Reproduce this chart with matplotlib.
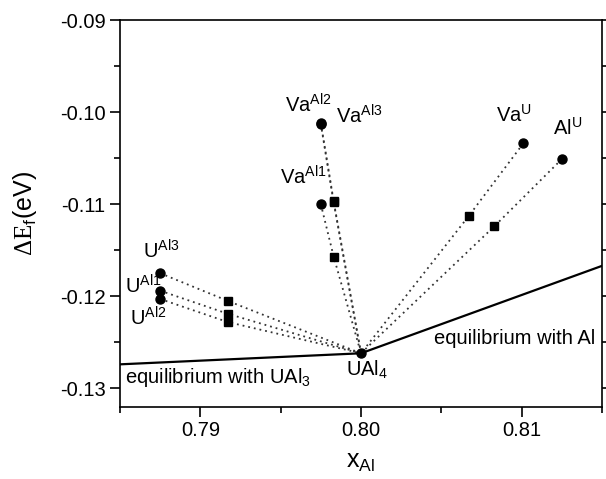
import matplotlib
matplotlib.use("Agg")
import matplotlib.pyplot as plt
from matplotlib.ticker import MultipleLocator

plt.rcParams["font.family"] = ["Liberation Sans", "DejaVu Sans"]
plt.rcParams["mathtext.fontset"] = "custom"
plt.rcParams["mathtext.rm"] = "Liberation Sans"
plt.rcParams["mathtext.it"] = "Liberation Sans:italic"
plt.rcParams["mathtext.sf"] = "Liberation Serif"

# UAl4 reference point
ual4_x = 0.800
ual4_y = -0.1262

# U antisite defects (circles) and their dilute counterparts (squares)
u_x = 0.7875
u_y = [-0.1175, -0.1194, -0.1203]
u_sq_x = 0.7917
u_sq_y = [-0.1205, -0.1219, -0.1228]

# Al vacancies
va_x = 0.7975
va_y = [-0.1013, -0.1012, -0.1100]
va_sq_x = 0.7983
va_sq_y = [-0.1098, -0.1097, -0.1157]

# U-site defects on the Al-rich side
au_labels = ["Va$^{\\mathrm{U}}$", "Al$^{\\mathrm{U}}$"]
au_x = [0.8101, 0.8125]
au_y = [-0.1034, -0.1051]
au_sq_x = [0.8067, 0.8083]
au_sq_y = [-0.1113, -0.1124]

# convex hull
hull_x = [0.785, 0.800, 0.815]
hull_y = [-0.1274, -0.1262, -0.1167]

fig = plt.figure(figsize=(6.06, 4.79), dpi=100)
ax = fig.add_axes([0.198, 0.151, 0.7954, 0.807])

dot = dict(color="#333333", linestyle=(0, (1, 2.2)), linewidth=1.3, zorder=2)

for y0, y1 in zip(u_y, u_sq_y):
    ax.plot([u_x, u_sq_x, ual4_x], [y0, y1, ual4_y], **dot)
for y0, y1 in zip(va_y, va_sq_y):
    ax.plot([va_x, va_sq_x, ual4_x], [y0, y1, ual4_y], **dot)
for x0, y0, x1, y1 in zip(au_x, au_y, au_sq_x, au_sq_y):
    ax.plot([x0, x1, ual4_x], [y0, y1, ual4_y], **dot)

ax.plot(hull_x, hull_y, color="black", linewidth=1.6, zorder=3)

ax.plot([u_x] * 3, u_y, "o", color="black", ms=6.5, zorder=4)
ax.plot([u_sq_x] * 3, u_sq_y, "s", color="black", ms=5.5, zorder=4)
ax.plot([va_x] * 3, va_y, "o", color="black", ms=6.5, zorder=4)
ax.plot([va_sq_x] * 3, va_sq_y, "s", color="black", ms=5.5, zorder=4)
ax.plot(au_x, au_y, "o", color="black", ms=6.5, zorder=4)
ax.plot(au_sq_x, au_sq_y, "s", color="black", ms=5.5, zorder=4)
ax.plot([ual4_x], [ual4_y], "o", color="black", ms=6.5, zorder=4)

fs = 14.5
txt = dict(fontsize=fs, ha="left", va="baseline")
ax.text(0.78642, -0.11587, "U$^{\\mathrm{Al3}}$", **txt)
ax.text(0.78530, -0.11967, "U$^{\\mathrm{Al1}}$", **txt)
ax.text(0.78561, -0.12315, "U$^{\\mathrm{Al2}}$", **txt)
ax.text(0.79524, -0.1000, "Va$^{\\mathrm{Al2}}$", **txt)
ax.text(0.79847, -0.1012, "Va$^{\\mathrm{Al3}}$", **txt)
ax.text(0.79493, -0.1079, "Va$^{\\mathrm{Al1}}$", **txt)
ax.text(0.80840, -0.10109, au_labels[0], **txt)
ax.text(0.81194, -0.1025, au_labels[1], **txt)
ax.text(0.79909, -0.12859, "UAl$_{\\mathrm{4}}$", **txt)
ax.text(0.78530, -0.12946, "equilibrium with UAl$_{\\mathrm{3}}$", **txt)
ax.text(0.80455, -0.1252, "equilibrium with Al", **txt)

ax.set_xlim(0.785, 0.815)
ax.set_ylim(-0.132, -0.09)
ax.xaxis.set_major_locator(MultipleLocator(0.01))
ax.xaxis.set_minor_locator(MultipleLocator(0.005))
ax.yaxis.set_major_locator(MultipleLocator(0.01))
ax.yaxis.set_minor_locator(MultipleLocator(0.005))
ax.xaxis.set_major_formatter(plt.FormatStrFormatter("%.2f"))
ax.yaxis.set_major_formatter(plt.FormatStrFormatter("%.2f"))

for s in ax.spines.values():
    s.set_linewidth(1.2)
ax.tick_params(which="both", direction="out", width=1.2, labelsize=fs,
               top=False, right=True)
ax.tick_params(which="major", length=7)
ax.tick_params(which="minor", length=4.5)

ax.set_xlabel("x$_{\\mathrm{Al}}$", fontsize=18, labelpad=7)
ax.set_ylabel("$\\mathsf{\\Delta E}_{\\mathrm{f}}$(eV)", fontsize=18, labelpad=15)

fig.savefig("out.png", dpi=100)
